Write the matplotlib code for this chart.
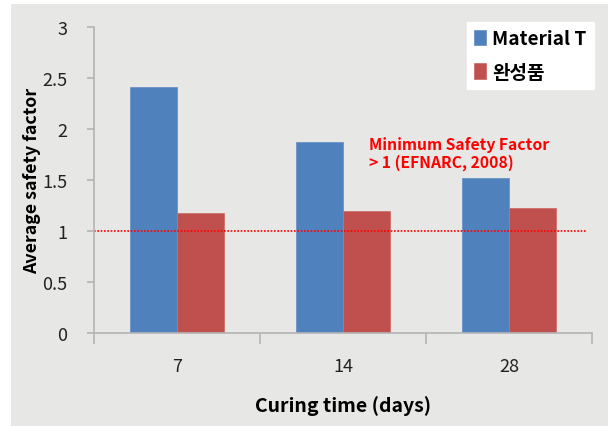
import matplotlib
matplotlib.use("Agg")
import matplotlib.pyplot as plt
import numpy as np
from matplotlib.patches import Rectangle

plt.rcParams['font.family'] = ['Noto Sans CJK KR', 'DejaVu Sans']

# data
days = ["7", "14", "28"]
material_t = [2.41, 1.87, 1.52]
finished = [1.18, 1.20, 1.23]
series_names = ["Material T", "완성품"]
min_sf = 1.0
note = "Minimum Safety Factor\n> 1 (EFNARC, 2008)"

bg = "#e7e7e5"
blue = "#4f81bd"
red = "#c0504d"
axcol = "#b4b4b4"

fig = plt.figure(figsize=(6.08, 4.27), dpi=100)
fig.patch.set_facecolor("white")
# gray panel behind the chart (starts a few px in from the top-left)
fig.patches.append(Rectangle((11 / 608, 0), 1, 1 - 5 / 427, transform=fig.transFigure,
                             facecolor=bg, edgecolor="none", zorder=-10))

ax = fig.add_axes([94 / 608, 1 - 334 / 427, (592 - 94) / 608, (334 - 28) / 427])
ax.set_facecolor("none")

x = np.arange(len(days))
w = 0.285
b1 = ax.bar(x - w / 2, material_t, w, color=blue, label=series_names[0],
            edgecolor="#6a93c8", linewidth=0.6)
b2 = ax.bar(x + w / 2, finished, w, color=red, label=series_names[1],
            edgecolor="#cc6f6c", linewidth=0.6)

ax.plot([-0.5, 2.47], [min_sf, min_sf], color="#ff0000", linestyle=(0, (1, 1)), lw=1.2)

ax.set_xlim(-0.5, 2.5)
ax.set_ylim(0, 3)
ax.set_yticks(np.arange(0, 3.01, 0.5))
ax.set_yticklabels(["0", "0.5", "1", "1.5", "2", "2.5", "3"])

# categorical labels centred, ticks at group boundaries
ax.set_xticks([-0.5, 0.5, 1.5, 2.5])
ax.set_xticklabels([])
ax.set_xticks(x, minor=True)
ax.set_xticklabels(days, minor=True)
ax.tick_params(axis="x", which="minor", length=0, pad=17, labelsize=13, labelcolor="#222222")
ax.tick_params(axis="x", which="major", length=8, width=1.2, color=axcol)
ax.tick_params(axis="y", length=5, width=1.2, color=axcol, labelsize=13,
               labelcolor="#222222", pad=14)

for s in ["top", "right"]:
    ax.spines[s].set_visible(False)
for s in ["left", "bottom"]:
    ax.spines[s].set_color(axcol)
    ax.spines[s].set_linewidth(1.2)

ax.set_ylabel("Average safety factor", fontsize=12.8, fontweight="bold")
ax.yaxis.set_label_coords((32 - 94) / 498, 0.5)
ax.yaxis.label.set_va("center")
ax.set_xlabel("Curing time (days)", fontsize=14, fontweight="bold")
ax.xaxis.set_label_coords(0.5, (334 - 406) / 306)
ax.xaxis.label.set_va("center")

ax.text(1.157, 1.93, note, color="#ff0000", fontsize=11.3, fontweight="bold",
        va="top", ha="left", linespacing=1.1)

leg = ax.legend(loc="upper right", bbox_to_anchor=(1.004, 1.016), borderaxespad=0,
                frameon=True, fancybox=False,
                prop={"size": 13.7, "weight": "bold"}, handlelength=0.6, handleheight=0.85,
                handletextpad=0.35, labelspacing=0.75, borderpad=0.38)
leg.get_frame().set_facecolor("white")
leg.get_frame().set_edgecolor("white")
leg.get_frame().set_alpha(1)

fig.savefig("out.png", dpi=100)
